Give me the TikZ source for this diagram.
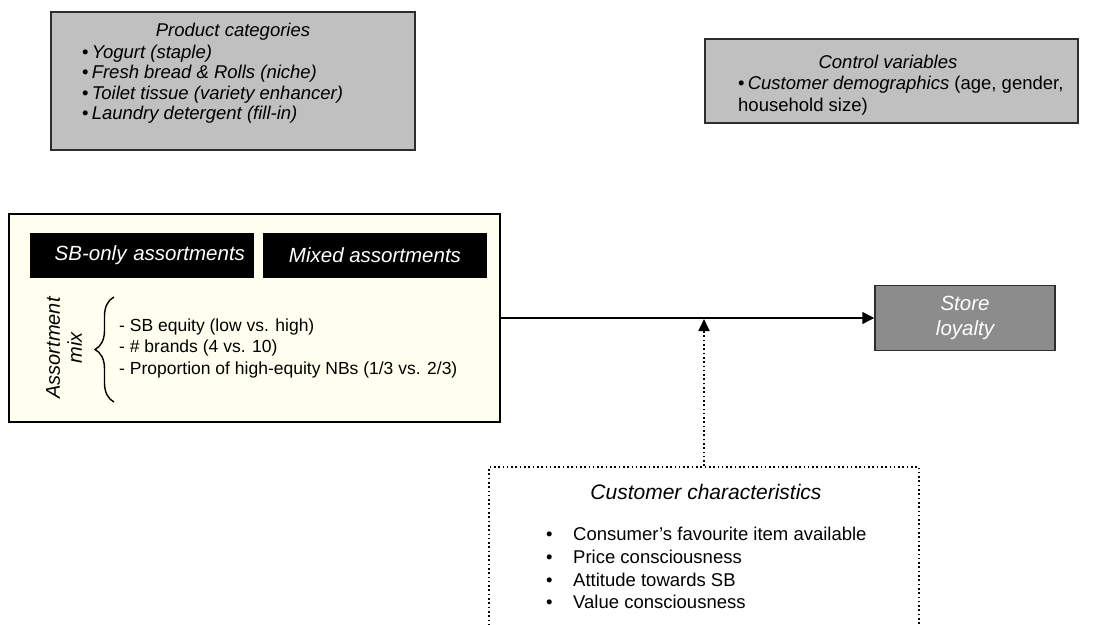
\documentclass[tikz,border=0pt]{standalone}
\usepackage{fontspec}
\setmainfont{Liberation Sans}
\usetikzlibrary{arrows.meta,decorations.pathreplacing}
\definecolor{boxgray}{RGB}{192,192,192}
\definecolor{loyalgray}{RGB}{140,140,140}
\definecolor{cream}{RGB}{255,255,240}
\definecolor{edgegray}{RGB}{45,45,45}
\tikzset{
    graybox/.style={draw=edgegray, line width=1.5pt, fill=boxgray, inner sep=0pt},
    mainbox/.style={draw=black, line width=2pt, fill=cream, inner sep=0pt},
    blackbox/.style={fill=black, text=white, font=\fontsize{20.5}{24}\selectfont\itshape, inner sep=0pt},
    loyalbox/.style={draw=edgegray, line width=1.5pt, fill=loyalgray, text=white, align=center, font=\fontsize{20.5}{25}\selectfont\itshape},
    dotbox/.style={draw=black, line width=1.8pt, dash pattern=on 1.6pt off 2.7pt, inner sep=0pt},
    listtext/.style={anchor=north west, align=left, inner sep=0pt},
    arr/.style={line width=1.5pt, -{Triangle[length=12pt, width=12pt]}},
    dotarr/.style={line width=1.8pt, dash pattern=on 1.6pt off 2.7pt, -{Triangle[length=12pt, width=11pt]}}
}

\begin{document}
\begin{tikzpicture}[x=1pt, y=-1pt, font=\fontsize{18.5}{21.5}\selectfont]
    \useasboundingbox (0,0) rectangle (1111,624);
    \clip (0,0) rectangle (1111,624);

    \node[graybox, minimum width=364pt, minimum height=138pt] (prod) at (233,81) {};
    \node (prodtitle) at (233,32) {\itshape Product categories};
    \node[listtext, font=\fontsize{18.5}{20.2}\selectfont] (prodlist) at (82,45) {\textbullet\,\textit{Yogurt (staple)}\\
        \textbullet\,\textit{Fresh bread \& Rolls (niche)}\\
        \textbullet\,\textit{Toilet tissue (variety enhancer)}\\
        \textbullet\,\textit{Laundry detergent (fill-in)}};

    \node[graybox, minimum width=373pt, minimum height=84pt] (ctrl) at (891.5,81) {};
    \node (ctrltitle) at (888,62) {\itshape Control variables};
    \node[listtext, font=\fontsize{18.5}{22}\selectfont] (ctrllist) at (738,76) {\textbullet\,\textit{Customer demographics} (age, gender,\\
        household size)};

    \node[mainbox, minimum width=491pt, minimum height=208pt] (mix) at (254.5,318) {};
    \node[blackbox, minimum width=224pt, minimum height=45pt, text width=206pt, align=right] (sbonly) at (142,255.5) {SB-only assortments};
    \node[blackbox, minimum width=224pt, minimum height=45pt] (mixed) at (375,255.5) {Mixed assortments};
    \node[rotate=90, align=center, font=\fontsize{20}{22}\selectfont\itshape] (mixlabel) at (64,348) {Assortment\\mix};
    \draw[line width=1.4pt, decorate, decoration={brace, amplitude=19pt}] (114,402) -- (114,297);
    \node[anchor=west, align=left, inner sep=0pt, font=\fontsize{17.5}{21.5}\selectfont] (mixlist) at (119,348) {- SB equity (low vs. high)\\
        - \# brands (4 vs. 10)\\
        - Proportion of high-equity NBs (1/3 vs. 2/3)};

    \node[loyalbox, minimum width=180pt, minimum height=65pt] (store) at (965,318) {Store\\loyalty};
    \draw[arr] (mix.east) -- (store.west);

    \node[dotbox, minimum width=430pt, minimum height=200pt, anchor=north] (cust) at (704,466) {};
    \node[font=\fontsize{21}{25}\selectfont\itshape] (custtitle) at (706,492) {Customer characteristics};
    \node[listtext, font=\fontsize{18.5}{22.7}\selectfont] (custlist) at (546,527) {\makebox[27pt][l]{\textbullet}Consumer's favourite item available\\
        \makebox[27pt][l]{\textbullet}Price consciousness\\
        \makebox[27pt][l]{\textbullet}Attitude towards SB\\
        \makebox[27pt][l]{\textbullet}Value consciousness};
    \coordinate (moderator) at (cust.north |- mix.east);
    \draw[dotarr] (cust.north) -- ([yshift=-1pt]moderator);
\end{tikzpicture}
\end{document}
